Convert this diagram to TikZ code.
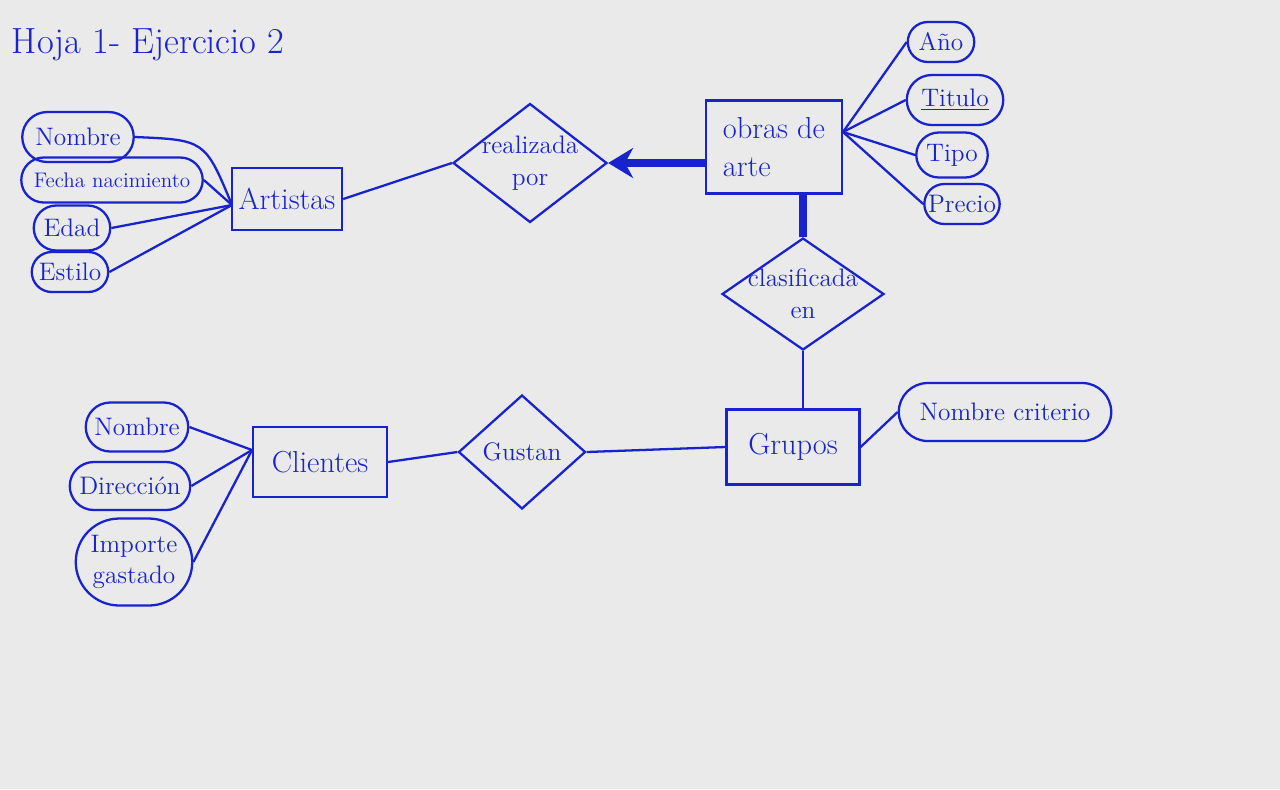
\documentclass[tikz,border=0pt]{standalone}
\usepackage{tikz}
\usetikzlibrary{arrows.meta,shapes.geometric,shapes.misc}

\definecolor{ink}{RGB}{25,35,205}
\definecolor{paper}{RGB}{233,234,233}

\begin{document}
\begin{tikzpicture}[x=0.02cm,y=-0.02cm,ink,line width=1.3pt,
                    font=\Large,text=ink]
	\tikzset{attr/.style={rounded rectangle,draw,inner sep=1pt},
	         entity/.style={rectangle,draw,inner sep=2pt,align=left,font=\LARGE},
	         rel/.style={diamond,draw,inner sep=-8pt,aspect=1.4,align=center},
	         strong/.style={line width=4.5pt}}

	\fill[paper] (0,0) rectangle (1280,789);
	\useasboundingbox (0,0) rectangle (1280,789);

	\node[anchor=west,font=\huge] (title) at (5,45) {Hoja 1- Ejercicio 2};

	% entidades
	\node[entity,minimum width=2.2cm,minimum height=1.24cm]	(Art)	at (287,199)	{Artistas};
	\node[entity,minimum width=2.72cm,minimum height=1.86cm]	(Obr)	at (774,147)	{obras de\\arte};
	\node[entity,minimum width=2.66cm,minimum height=1.5cm]	(Gru)	at (793,447)	{Grupos};
	\node[entity,minimum width=2.68cm,minimum height=1.4cm]	(Cli)	at (320,462)	{Clientes};

	% relaciones
	\node[rel,minimum width=3.08cm,minimum height=2.38cm]	(Rea)	at (530,163)	{realizada\\por};
	\node[rel,minimum width=3.24cm,minimum height=2.24cm]	(Cla)	at (803,294)	{clasificada\\en};
	\node[rel,minimum width=2.54cm,minimum height=2.28cm]	(Gus)	at (522,452)	{Gustan};

	% atributos de Artistas
	\node[attr,minimum width=2.3cm,minimum height=1cm]	(ArtNom)	at (78,137)	{Nombre};
	\node[attr,minimum width=3.7cm,minimum height=0.9cm,font=\large]	(ArtFec)	at (112,180)	{Fecha nacimiento};
	\node[attr,minimum width=1.6cm,minimum height=0.9cm]	(ArtEda)	at (72,228)	{Edad};
	\node[attr,minimum width=1.6cm,minimum height=0.8cm]	(ArtEst)	at (70,272)	{Estilo};

	% atributos de obras de arte
	\node[attr,minimum width=1.4cm,minimum height=0.8cm]	(ObrAno)	at (941,42)	{Año};
	\node[attr,minimum width=2cm,minimum height=1cm]	(ObrTit)	at (955,100)	{\underline{Titulo}};
	\node[attr,minimum width=1.5cm,minimum height=0.9cm]	(ObrTip)	at (952,155)	{Tipo};
	\node[attr,minimum width=1.5cm,minimum height=0.8cm]	(ObrPre)	at (962,204)	{Precio};

	% atributos de Grupos y Clientes
	\node[attr,minimum width=4.32cm,minimum height=1.16cm]	(GruNom)	at (1005,412)	{Nombre criterio};
	\node[attr,minimum width=2.12cm,minimum height=0.98cm]	(CliNom)	at (137,427)	{Nombre};
	\node[attr,minimum width=2.48cm,minimum height=0.96cm]	(CliDir)	at (130,486)	{Dirección};
	\node[attr,minimum width=2.4cm,minimum height=1.74cm,align=center]	(CliImp)	at (134,562)	{Importe\\gastado};

	\coordinate (ArtW) at (232,205);
	\coordinate (CliW) at (252,450);
	\coordinate (ObrE) at (843,132);

	\draw (ArtNom.east) .. controls (205,140) .. (ArtW);
	\path (ArtFec.east)	edge	(ArtW)
	      (ArtEda.east)	edge	(ArtW)
	      (ArtEst.east)	edge	(ArtW)
	      (ObrAno.west)	edge	(ObrE)
	      (ObrTit.west)	edge	(ObrE)
	      (ObrTip.west)	edge	(ObrE)
	      (ObrPre.west)	edge	(ObrE)
	      (CliNom.east)	edge	(CliW)
	      (CliDir.east)	edge	(CliW)
	      (CliImp.east)	edge	(CliW)
	      (Art.east)	edge	(Rea.west)
	      (Cla.south)	edge	(Cla.south |- Gru.north)
	      (Gru.west)	edge	(Gus.east)
	      (Gus.west)	edge	(Cli.east)
	      (Gru.east)	edge	(GruNom.west);

	\draw[strong,-{Stealth[length=5mm,width=6mm]}] (Obr.west |- Rea.east) -- (Rea.east);
	\draw[strong] (Obr.south -| Cla.north) -- (Cla.north);
\end{tikzpicture}
\end{document}
